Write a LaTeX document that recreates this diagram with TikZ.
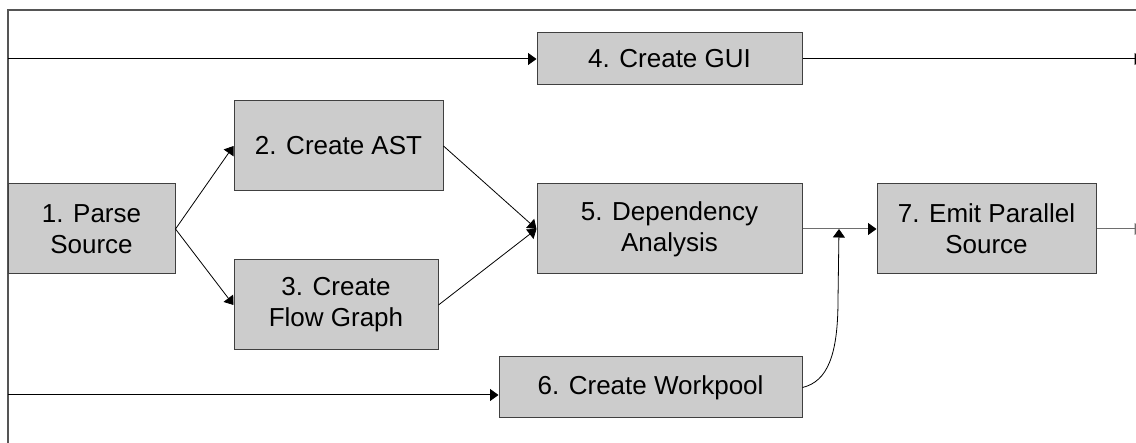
\documentclass[tikz,border=0pt]{standalone}
\usepackage{fontspec}
\setmainfont{Liberation Sans}
\usetikzlibrary{arrows.meta}
\definecolor{boxfill}{RGB}{204,204,204}
\definecolor{boxline}{RGB}{64,64,64}
\definecolor{frameline}{RGB}{85,85,85}
\definecolor{greyline}{RGB}{110,110,110}
\begin{document}
\begin{tikzpicture}[x=1pt,y=-1pt,
  procbox/.style={draw=boxline,fill=boxfill,line width=1pt,inner sep=0pt,align=center,
    font=\fontsize{26}{31}\selectfont},
  conn/.style={draw=black,line width=1pt},
  thinconn/.style={draw=black,line width=0.8pt},
  greyconn/.style={draw=greyline,line width=1pt},
  tip/.style={-{Triangle[length=8.5pt,width=12pt]}},
  frame/.style={draw=frameline,line width=1.2pt}]
\useasboundingbox (0,0) rectangle (1136,443);
\clip (0,0) rectangle (1136,443);
% frame
\coordinate (ftr) at (1136,10);
\coordinate (ftl) at (8,10);
\coordinate (fbl) at (8,443);
\draw[frame] (ftr) -- (ftl) -- (fbl);
% nodes
\node[procbox,minimum width=167pt,minimum height=90pt] (n1) at (91.5,229) {1. Parse\\Source};
\node[procbox,minimum width=209pt,minimum height=90pt] (n2) at (338.5,146) {2. Create AST};
\node[procbox,minimum width=204pt,minimum height=90pt] (n3) at (336,305) {3. Create\\Flow Graph};
\node[procbox,minimum width=265pt,minimum height=52pt] (n4) at (669.5,59) {4. Create GUI};
\node[procbox,minimum width=265pt,minimum height=90pt] (n5) at (669.5,229) {5. Dependency\\Analysis};
\node[procbox,minimum width=303pt,minimum height=61pt] (n6) at (650.5,387.5) {6. Create Workpool};
\node[procbox,minimum width=219pt,minimum height=90pt] (n7) at (986.5,229) {7. Emit Parallel\\Source};
% coordinates
\coordinate (in4) at (8,59);
\coordinate (in6) at (8,395);
\coordinate (out4) at (1143,59);
\coordinate (out7) at (1143,229);
\coordinate (m) at (839,229);
\coordinate (bend) at (838,300);
% connectors
\draw[conn,tip] (in4) -- (n4.west);
\draw[conn,tip] (n4.east) -- (out4);
\draw[conn,tip] (in6) -- (in6 -| n6.west);
\draw[thinconn,tip] (n1.east) -- (n2.west);
\draw[thinconn,tip] (n1.east) -- (n3.west);
\draw[thinconn,tip] (n2.east) -- (n5.west);
\draw[thinconn,tip] (n3.east) -- (n5.west);
\draw[greyconn,-{Triangle[length=8.5pt,width=12pt,color=black]}] (n5.east) -- (n7.west);
\draw[greyconn,-{Triangle[length=8.5pt,width=12pt]}] (n7.east) -- (out7);
\draw[thinconn,tip] (n6.east) .. controls +(25,-6) and +(0,55) .. (bend) -- (m);
\end{tikzpicture}
\end{document}
